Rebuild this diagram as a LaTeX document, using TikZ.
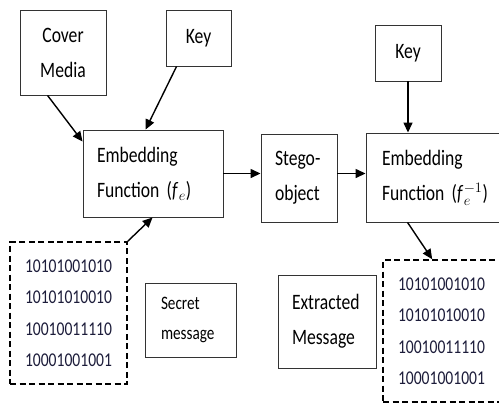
\documentclass[tikz,border=0pt]{standalone}
\usepackage{fontspec}
\setmainfont{Carlito}[FakeStretch=0.8]
\usetikzlibrary{arrows.meta,calc}
\definecolor{bits}{RGB}{28,28,58}
\newcommand{\fn}{\textit{f}\kern0.5pt}
\begin{document}
\begin{tikzpicture}[x=1pt,y=-1pt,
  box/.style={draw=black!80,line width=0.9pt,rectangle,inner ysep=0pt},
  dbox/.style={draw=black,line width=1.6pt,dash pattern=on 6pt off 3.5pt,rectangle,inner ysep=0pt,
    text=bits,align=left,font=\fontsize{19.5}{31.5}\selectfont},
  big/.style={font=\fontsize{22}{35}\selectfont},
  small/.style={font=\fontsize{19}{30}\selectfont},
  arr/.style={line width=1.4pt,-{Triangle[length=10pt,width=9pt]}}]
\useasboundingbox (0,0) rectangle (499,405);
\clip (0,0) rectangle (499,405);
\fill[white] (0,0) rectangle (499,405);

% sender side
\node[box,big,align=center,minimum width=86pt,minimum height=85pt,inner xsep=0pt]
  (cover) at (63,52.5) {Cover\\Media};
\node[box,big,minimum width=65pt,minimum height=56pt] (keyL) at (198.5,38) {Key};
\node[box,big,align=left,minimum height=87pt,inner xsep=14pt,text width=112pt]
  (embL) at (153,173.5) {Embedding\\Function (\fn$_e$)};
\node[dbox,minimum height=142pt,inner xsep=15pt,text width=87pt]
  (dashL) at (68.5,313) {10101001010\\10101010010\\10010011110\\10001001001};
\node[box,small,align=left,minimum height=74pt,inner xsep=16pt,text width=59pt]
  (secret) at (190.5,320) {Secret\\message};

% channel
\node[box,big,align=left,minimum height=88pt,inner xsep=14pt,text width=48pt]
  (stego) at (299,178) {Stego-\\object};

% receiver side
\node[box,big,minimum width=66pt,minimum height=56pt] (keyR) at (408,53) {Key};
\node[box,big,align=left,minimum height=89pt,inner xsep=16pt,text width=130pt]
  (embR) at (447,177.5) {Embedding\\Function (\fn$_e^{-1}$)};
\node[dbox,minimum height=142pt,inner xsep=15pt,text width=107pt]
  (dashR) at (451.5,331) {10101001010\\10101010010\\10010011110\\10001001001};
\node[box,big,align=left,minimum height=93pt,inner xsep=14pt,text width=70pt]
  (extr) at (327,321.5) {Extracted\\Message};

% connectors
\draw[arr] ($(cover.south west)+(28,0)$) -- ($(embL.north west)+(0,12)$);
\draw[arr] ($(keyL.south west)+(11,0)$) -- ($(embL.north west)+(63,0)$);
\draw[arr] (dashL.north east) -- ($(embL.south west)+(70,0)$);
\draw[arr] (embL.east) -- (embL.east -| stego.west);
\draw[arr] (embL.east -| stego.east) -- (embL.east -| embR.west);
\draw[arr] (keyR.south) -- (keyR.south |- embR.north);
\draw[arr] ($(embR.south west)+(42,0)$) -- ($(dashR.north west)+(50,0)$);
\end{tikzpicture}
\end{document}
